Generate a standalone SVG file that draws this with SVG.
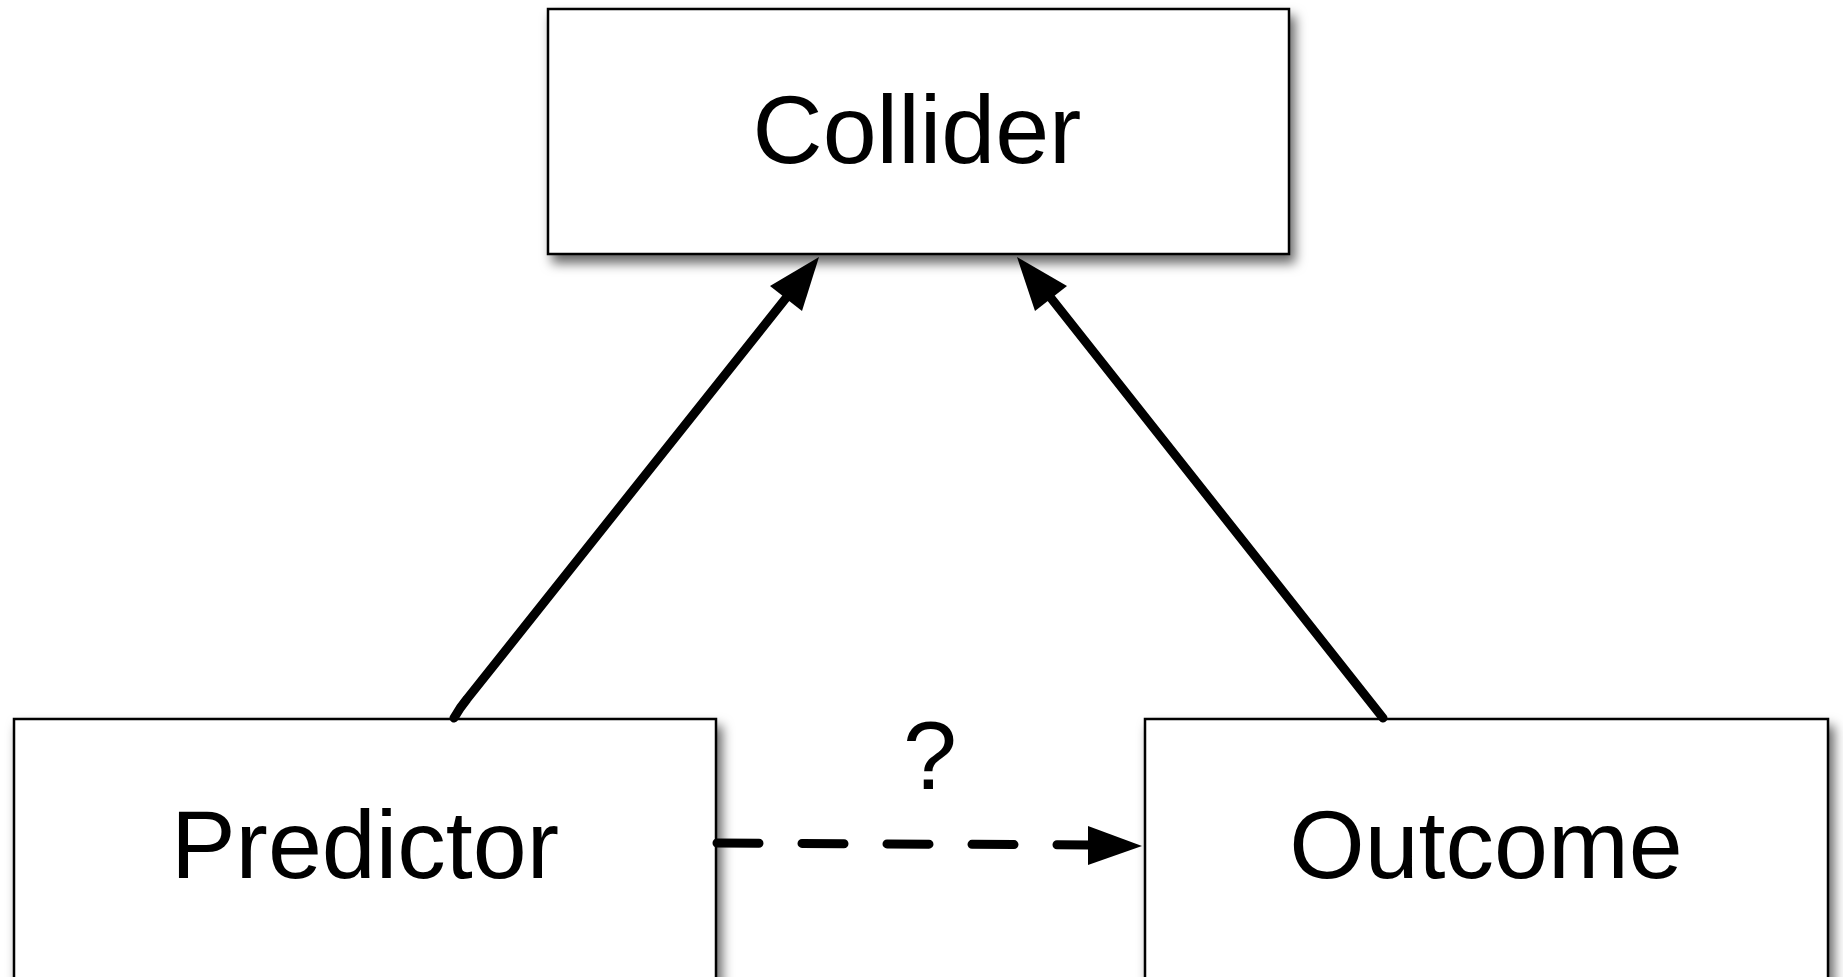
<svg xmlns="http://www.w3.org/2000/svg" width="1843" height="977" viewBox="0 0 1843 977">
<defs>
<filter id="shadow" x="-10%" y="-10%" width="125%" height="130%">
<feDropShadow dx="5" dy="8" stdDeviation="6" flood-color="#000" flood-opacity="0.6"/>
</filter>
<style>
.box{fill:#fff;stroke:#000;stroke-width:2.5;filter:url(#shadow)}
.lbl{font-family:"Liberation Sans",Arial,sans-serif;font-size:97px;fill:#000;text-anchor:middle}
.edge{fill:none;stroke:#000;stroke-width:9;stroke-linecap:round}
.head{fill:#000;stroke:none}
</style>
</defs>
<rect width="1843" height="977" fill="#fff"/>
<g id="collider">
<rect class="box" x="548" y="9" width="741" height="245"/>
<text class="lbl" x="917" y="163">Collider</text>
</g>
<g id="predictor">
<rect class="box" x="14" y="719" width="702" height="275"/>
<text class="lbl" x="365" y="878">Predictor</text>
</g>
<g id="outcome">
<rect class="box" x="1145" y="719" width="683" height="275"/>
<text class="lbl" x="1486" y="878">Outcome</text>
</g>
<g id="connectors">
<path class="edge" d="M454,718 C458,711 462,705 467,699 L790,293"/>
<polygon class="head" points="819,257 770,286 802,311"/>
<path class="edge" d="M1383,718 L1047,293"/>
<polygon class="head" points="1017,257 1067,286 1035,311"/>
<path class="edge" d="M717,843 L1090,845" stroke-dasharray="42 43"/>
<polygon class="head" points="1142,846 1088,826 1088,865"/>
<text class="lbl" x="930" y="789">?</text>
</g>
</svg>
